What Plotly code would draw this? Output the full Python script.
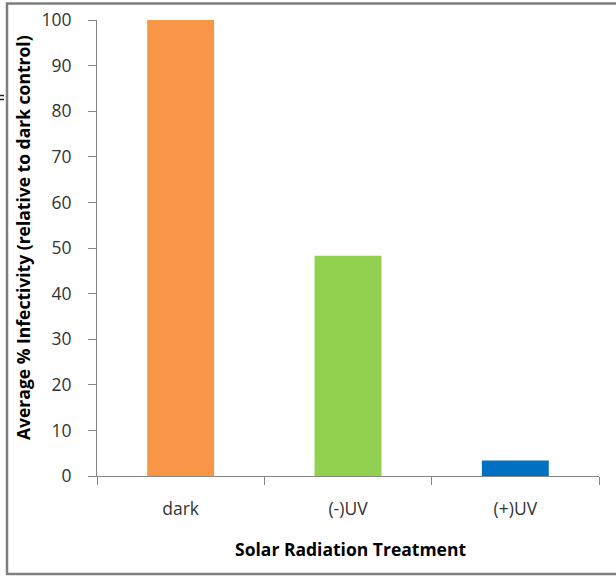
import plotly.graph_objects as go

# Average infectivity by solar radiation treatment
treatments = ["dark", "(-)UV", "(+)UV"]
infectivity = [100, 48.3, 3.4]
bar_colors = ["#F79646", "#92D050", "#0070C0"]
y_ticks = [0, 10, 20, 30, 40, 50, 60, 70, 80, 90, 100]

x_title = "Solar Radiation Treatment"
y_title = "Average % Infectivity (relative to dark control)"

W, H = 616, 577
ML, MR, MT, MB = 97, 17, 20, 101
PW, PH = W - ML - MR, H - MT - MB


def px_x(p):
    return (p - ML) / PW


def px_y(p):
    return (H - MB - p) / PH


FONT = "Open Sans"
TICK_FONT = dict(family=FONT, size=17.5, color="#333333")
TITLE_FONT = dict(family=FONT, size=17.5, color="#000000")

fig = go.Figure(
    go.Bar(
        x=treatments,
        y=infectivity,
        marker=dict(color=bar_colors, line=dict(width=0)),
        width=0.4,
    )
)

fig.update_layout(
    width=W,
    height=H,
    margin=dict(l=ML, r=MR, t=MT, b=MB, autoexpand=False),
    paper_bgcolor="white",
    plot_bgcolor="white",
    showlegend=False,
    font=dict(family=FONT, size=16, color="#404040"),
    xaxis=dict(
        type="category",
        automargin=False,
        tickson="boundaries",
        ticks="outside",
        ticklen=8,
        tickcolor="#868686",
        showline=True,
        linecolor="#868686",
        linewidth=1,
        showgrid=False,
        ticklabelstandoff=17,
        tickfont=TICK_FONT,
    ),
    yaxis=dict(
        range=[0, 100],
        automargin=False,
        tickvals=y_ticks,
        ticks="outside",
        ticklen=8,
        tickcolor="#868686",
        showline=True,
        linecolor="#868686",
        linewidth=1,
        showgrid=False,
        zeroline=False,
        ticklabelstandoff=13,
        tickfont=TICK_FONT,
    ),
    annotations=[
        dict(
            text=f"<b>{x_title}</b>", xref="paper", yref="paper",
            x=px_x(350), y=px_y(549), xanchor="center", yanchor="middle",
            showarrow=False, font=TITLE_FONT,
        ),
        dict(
            text=f"<b>{y_title}</b>", xref="paper", yref="paper",
            x=px_x(23), y=px_y(238), xanchor="center", yanchor="middle",
            textangle=-90, showarrow=False, font=TITLE_FONT,
        ),
    ],
    shapes=[
        # chart frame
        dict(
            type="rect", xref="paper", yref="paper",
            x0=px_x(7), x1=px_x(625), y0=px_y(574), y1=px_y(3.5),
            line=dict(color="#7F7F7F", width=2.5), fillcolor="rgba(0,0,0,0)",
            layer="above",
        ),
        # small marks at the left edge
        dict(type="line", xref="paper", yref="paper",
             x0=px_x(0), x1=px_x(4), y0=px_y(95.5), y1=px_y(95.5),
             line=dict(color="#202020", width=1.5)),
        dict(type="line", xref="paper", yref="paper",
             x0=px_x(0), x1=px_x(4), y0=px_y(99.5), y1=px_y(99.5),
             line=dict(color="#202020", width=1.5)),
    ],
)

fig.write_html("out.html")
